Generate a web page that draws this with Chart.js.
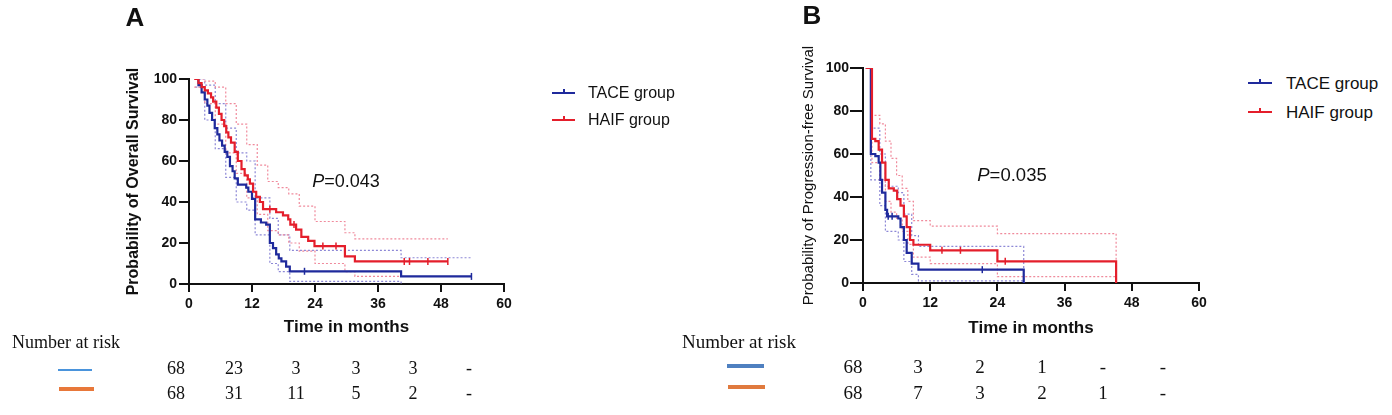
<!DOCTYPE html>
<html><head><meta charset="utf-8">
<script src="https://cdn.jsdelivr.net/npm/chart.js@4.4.0/dist/chart.umd.min.js"></script>
<style>
body{margin:0;background:#fff;}
#wrap{position:relative;width:1392px;height:415px;overflow:hidden;font-family:"Liberation Sans",Arial,sans-serif;color:#111;}
canvas{position:absolute;}
.t{position:absolute;white-space:nowrap;transform:translate(-50%,-50%);line-height:1;}
.l{position:absolute;white-space:nowrap;transform:translate(0,-50%);line-height:1;}
.serif{font-family:"Liberation Serif","Times New Roman",serif;color:#111;}
.bar{position:absolute;}
</style></head>
<body><div id="wrap">
<canvas id="cA" width="560" height="342" style="left:0;top:0;width:560px;height:342px"></canvas>
<canvas id="cB" width="560" height="343" style="left:660px;top:0;width:560px;height:343px"></canvas>
</div>
<script>
// ---------- Panel A: overall survival ----------
const osTaceT = [1.2,1.8,2.4,3.0,3.5,3.9,4.4,4.9,5.4,5.8,6.3,6.8,7.3,7.8,8.3,8.7,9.3,10.9,11.3,12.0,12.6,13.7,14.7,15.4,16.0,16.6,17.1,17.6,18.5,19.2,40.4,53.8];
const osTaceS = [100,97,93.5,90,87,83.5,80,76,73,70,67.5,64.5,62,57.5,55,51.5,48.5,47,45,41.5,31.5,30,29,20,17.5,14.5,12.5,11,8.5,6.2,3.7,3.7];
const osHaifT = [1.0,1.8,2.4,3.0,3.6,4.2,4.6,5.2,5.7,6.2,6.7,7.1,7.5,8.0,8.7,9.3,10.0,10.6,11.2,11.6,12.2,12.8,13.5,14.1,16.6,17.9,18.9,19.3,20.4,21.4,22.7,23.9,29.7,31.6,49.3];
const osHaifS = [100,98,96,94.5,93,91,89,86,83,80,77,74,71.5,69,64.5,60,56,53,51,49,45,42.5,40,36.5,35,33.5,31.5,29,26.5,23,21,18.5,13.5,11,11];
const osTaceUpT = [1.2,3,5,7,9,11,12.6,15.4,17,19.2,40.4,53.8];
const osTaceUpS = [100,97,88,76,64,60,42,32,24,16.4,12.8,12.8];
const osTaceLoT = [1.2,3,5,7,9,11,12.6,15.4,17,19.2,40.4];
const osTaceLoS = [96,80,66,52,40,36,24,10,6,1.3,0];
const osHaifUpT = [1,3,5,7,9,11,13,15,17,19,21,24,29.7,31.6,49.3];
const osHaifUpS = [100,99,96,88,78,68,58,50,47,44,38,30.5,25,22,22];
const osHaifLoT = [1,3,5,7,9,11,13,15,17,19,21,24,29.7,31.6,40.4];
const osHaifLoS = [96,88,78,64,54,42,34,26,24,20,16,10,6,3.7,3.7];
const osTaceCensT = [22,53.8];
const osTaceCensS = [6.2,3.7];
const osHaifCensT = [15.4,20,25.5,28,41,42,45.5,49.3];
const osHaifCensS = [36.5,29,18.5,18.5,11,11,11,11];

// ---------- Panel B: progression-free survival ----------
const pfsTaceT = [0.5,1.4,2.2,2.8,3.1,3.4,4.0,4.3,6.3,6.7,7.3,7.8,8.7,9.9,28.7];
const pfsTaceS = [100,60,59,56,48,42,34,31,30,26,20,14,9,6.2,0];
const pfsHaifT = [0.5,1.6,2.2,2.8,3.4,4.0,4.6,5.5,6.1,6.7,7.3,7.8,8.4,9.0,12.0,24.0,45.2];
const pfsHaifS = [100,67,66,62,56,48,44,43,39,36,31,26,20,17.8,15.2,10.1,0];
const pfsTaceUpT = [0.5,1.4,3,4,6.3,7.3,8.7,9.9,28.7];
const pfsTaceUpS = [100,72,60,45,42,32,22,17,0];
const pfsTaceLoT = [0.5,1.4,3,4,6.3,7.3,8.7,9.9,28.7];
const pfsTaceLoS = [100,48,36,24,20,10,4,1,0];
const pfsHaifUpT = [0.5,1.6,3,4,5,6,7,8,9,12,24,45.2];
const pfsHaifUpS = [100,78,74,66,58,50,44,38,29,26.5,23,0];
const pfsHaifLoT = [0.5,1.6,3,4,5,6,7,8,9,12,24,45.2];
const pfsHaifLoS = [100,56,48,38,33,30,24,18,12,9,3,0];
const pfsTaceCensT = [4.5,5.2,21.3];
const pfsTaceCensS = [31,31,6.2];
const pfsHaifCensT = [14.1,17.4,25.4];
const pfsHaifCensS = [15.2,15.2,10.1];

// ---------- axis / labels ----------
const xTicksMax = 60, xStep = 12, yStep = 20;
const groupNames = ['TACE group','HAIF group'];
const riskHeader = 'Number at risk';
const riskA_TACE = ['68','23','3','3','3','-'];
const riskA_HAIF = ['68','31','11','5','2','-'];
const riskB_TACE = ['68','3','2','1','-','-'];
const riskB_HAIF = ['68','7','3','2','1','-'];
const pA = '0.043', pB = '0.035';

const C_TACE = '#1f2a9c', C_HAIF = '#e41e2b', C_TACE_CI = '#8d88d6', C_HAIF_CI = '#f08a9c';

Chart.defaults.font.family = '"Liberation Sans", Arial, sans-serif';

function pts(t, s){ return t.map((v,i)=>({x:v, y:s[i]})); }
function km(t,s,c){ return {data:pts(t,s), borderColor:c, borderWidth:2.2, stepped:'before', pointRadius:0, fill:false}; }
function ci(t,s,c){ return {data:pts(t,s), borderColor:c, borderWidth:1.2, borderDash:[2,2], stepped:'before', pointRadius:0, fill:false}; }
function cens(t,s,c){ return {type:'scatter', data:pts(t,s), borderColor:c, backgroundColor:c, pointStyle:'line', rotation:90, pointRadius:3.5, borderWidth:1.5, showLine:false}; }

function makeChart(id, sets, o){
  return new Chart(document.getElementById(id), {
    type:'line',
    data:{datasets:sets},
    options:{
      responsive:false, animation:false, devicePixelRatio:1,
      layout:{padding:{left:o.padL, top:o.padT, right:o.padR, bottom:0}},
      plugins:{legend:{display:false}, tooltip:{enabled:false}},
      scales:{
        x:{type:'linear', min:0, max:xTicksMax,
           ticks:{stepSize:xStep, color:'#111', padding:4, font:{size:14, weight:'bold'}},
           grid:{drawOnChartArea:false, color:'#111', lineWidth:2, tickLength:8},
           border:{color:'#111', width:2},
           title:{display:true, text:'Time in months', color:'#111', font:{size:17, weight:'bold'}},
           afterFit:s=>{s.height=o.xH;}},
        y:{type:'linear', min:0, max:100,
           ticks:{stepSize:yStep, color:'#111', padding:o.yPad, font:{size:14, weight:'bold'}},
           grid:{drawOnChartArea:false, color:'#111', lineWidth:2, tickLength:o.yTick},
           border:{color:'#111', width:2},
           title:{display:true, text:o.yTitle, color:'#111', font:{size:o.yTitleSize, weight:o.yTitleWeight}},
           afterFit:s=>{s.width=o.yW;}}
      }
    }
  });
}

makeChart('cA', [
  km(osHaifT, osHaifS, C_HAIF), km(osTaceT, osTaceS, C_TACE),
  cens(osHaifCensT, osHaifCensS, C_HAIF), cens(osTaceCensT, osTaceCensS, C_TACE),
  ci(osHaifUpT, osHaifUpS, C_HAIF_CI), ci(osHaifLoT, osHaifLoS, C_HAIF_CI),
  ci(osTaceUpT, osTaceUpS, C_TACE_CI), ci(osTaceLoT, osTaceLoS, C_TACE_CI)
], {padL:120, padT:79, padR:56, xH:58, yW:69, yPad:2, yTick:10, yTitle:'Probability of Overall Survival', yTitleSize:16, yTitleWeight:'bold'});

makeChart('cB', [
  km(pfsHaifT, pfsHaifS, C_HAIF), km(pfsTaceT, pfsTaceS, C_TACE),
  cens(pfsHaifCensT, pfsHaifCensS, C_HAIF), cens(pfsTaceCensT, pfsTaceCensS, C_TACE),
  ci(pfsHaifUpT, pfsHaifUpS, C_HAIF_CI), ci(pfsHaifLoT, pfsHaifLoS, C_HAIF_CI),
  ci(pfsTaceUpT, pfsTaceUpS, C_TACE_CI), ci(pfsTaceLoT, pfsTaceLoS, C_TACE_CI)
], {padL:136, padT:68, padR:21, xH:60, yW:67, yPad:1, yTick:13, yTitle:'Probability of Progression-free Survival', yTitleSize:15, yTitleWeight:'normal'});

// ---------- HTML text overlays ----------
const wrap = document.getElementById('wrap');
function txt(s, x, y, css, cls){ const d=document.createElement('div'); d.className=cls||'t'; d.style.cssText=css; d.style.left=x+'px'; d.style.top=y+'px'; d.innerHTML=s; wrap.appendChild(d); return d; }
function bar(x1,x2,y,h,c){ const d=document.createElement('div'); d.className='bar'; d.style.left=Math.round(x1)+'px'; d.style.width=Math.round(x2-x1)+'px'; d.style.top=Math.round(y-h/2)+'px'; d.style.height=h+'px'; d.style.background=c; wrap.appendChild(d); }

// panel letters
txt('A', 135, 17, 'font-size:26px;font-weight:bold;');
txt('B', 812, 15, 'font-size:26px;font-weight:bold;');
// p values
txt('<i>P</i>=' + pA, 346, 181, 'font-size:18px;');
txt('<i>P</i>=' + pB, 1012, 175, 'font-size:18.5px;');

// legends
function legend(x1,x2,tx,ys,fs){
  [C_TACE,C_HAIF].forEach((c,i)=>{
    bar(x1,x2,ys[i],2,c);
    bar(Math.round((x1+x2)/2)-1,Math.round((x1+x2)/2)+1,ys[i]-2,5,c);
    txt(groupNames[i], tx, ys[i], 'font-size:'+fs+'px;', 'l');
  });
}
legend(552,575,588,[93,120],16);
legend(1248,1272,1286,[83,112],17);

// risk tables
function riskTable(hx,hy,lines,cols,rowsY,rows,fs){
  txt(riskHeader, hx, hy, 'font-size:'+fs+'px;', 'l serif');
  lines.forEach(l=>bar(l[0],l[1],l[2],l[3],l[4]));
  rows.forEach((r,ri)=>r.forEach((v,ci)=>txt(v, cols[ci], rowsY[ri], 'font-size:'+fs+'px;', 't serif')));
}
riskTable(12,342,[[58,92,370,2,'#4a94dc'],[59,94,389,4,'#e8783a']],
  [176,234,296,356,413,469],[368,393],[riskA_TACE,riskA_HAIF],18);
riskTable(682,341,[[727,764,366,4,'#4f80c0'],[728,765,387,4,'#e07a3e']],
  [853,918,980,1042,1103,1163],[366,392],[riskB_TACE,riskB_HAIF],19);
</script>
</body></html>
